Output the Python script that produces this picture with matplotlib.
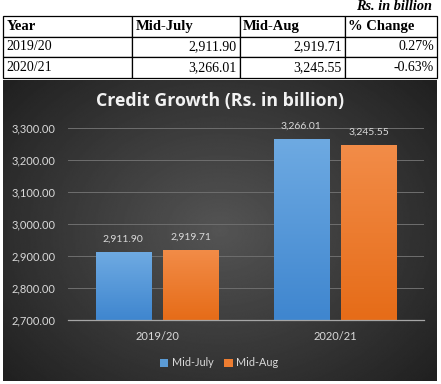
import numpy as np
import matplotlib
matplotlib.use("Agg")
import matplotlib.pyplot as plt
from matplotlib.colors import LinearSegmentedColormap

# Datos
years = ["2019/20", "2020/21"]
mid_july = [2911.90, 3266.01]
mid_aug = [2919.71, 3245.55]
pct_change = ["0.27%", "-0.63%"]
col_labels = ["Year", "Mid-July", "Mid-Aug", "% Change"]

W, H = 441, 384
fig = plt.figure(figsize=(W / 100, H / 100), dpi=100)
fig.patch.set_facecolor("white")


def fx(px):
    return px / W


def fy(px):
    return 1 - px / H


# --- tabla de arriba ---
fig.text(fx(432), fy(7), "Rs. in billion", ha="right", va="center",
         fontsize=10.3, fontweight="bold", style="italic",
         family="Liberation Serif", color="black")

tab_ax = fig.add_axes([fx(3), fy(78), fx(434), (78 - 16) / H])
tab_ax.axis("off")
cell_text = [[y, f"{a:,.2f}", f"{b:,.2f}", p]
             for y, a, b, p in zip(years, mid_july, mid_aug, pct_change)]
tabla = tab_ax.table(cellText=cell_text, colLabels=col_labels,
                     colWidths=[129, 108, 105, 92], bbox=[0, 0, 1, 1])
tabla.auto_set_font_size(False)
tabla.set_fontsize(10)
for (r, c), cell in tabla.get_celld().items():
    cell.set_linewidth(0.9)
    cell.set_edgecolor("black")
    cell.PAD = 0.03
    txt = cell.get_text()
    txt.set_family("Liberation Serif")
    if r == 0:
        txt.set_fontweight("bold")
        txt.set_fontsize(10.5)
        cell._loc = "left"
        txt.set_ha("left")
    elif c == 0:
        cell._loc = "left"
        txt.set_ha("left")
    else:
        cell._loc = "right"
        txt.set_ha("right")

# --- panel oscuro con degradado ---
bg = fig.add_axes([fx(3), 1 - 381 / H, fx(434), (381 - 80) / H])
bg.axis("off")
gx, gy = np.meshgrid(np.linspace(-1, 1, 300), np.linspace(-1, 1, 300))
dist = np.sqrt((gx * 0.9) ** 2 + (gy * 0.8) ** 2)
grad = np.clip(0.33 - 0.17 * dist, 0.11, 0.34)
bg.imshow(grad, cmap="gray", vmin=0, vmax=1, extent=[0, 1, 0, 1],
          aspect="auto", interpolation="bilinear")
bg.set_xlim(0, 1)
bg.set_ylim(0, 1)

fig.text(fx(220), fy(101), "Credit Growth (Rs. in billion)", ha="center",
         va="center", fontsize=12.8, fontweight="bold", family="Open Sans",
         color="#f2f2f2")

# --- barras ---
ax = fig.add_axes([fx(68), fy(320), fx(424 - 68), (320 - 128) / H])
ax.patch.set_alpha(0)
x = np.arange(len(years))
bw = 0.31
off = 0.19
c_blue = "#5b9bd5"
c_orange = "#ed7d31"
cm_blue = LinearSegmentedColormap.from_list("b", ["#3f86cf", "#6eaae2"])
cm_orange = LinearSegmentedColormap.from_list("o", ["#e66c18", "#f28c48"])
b1 = ax.bar(x - off, mid_july, bw, color=c_blue, label="Mid-July", zorder=3)
b2 = ax.bar(x + off, mid_aug, bw, color=c_orange, label="Mid-Aug", zorder=3)
ramp = np.linspace(0, 1, 100).reshape(-1, 1)
for bars, cm in ((b1, cm_blue), (b2, cm_orange)):
    for rect in bars:
        x0, w, v = rect.get_x(), rect.get_width(), rect.get_height()
        im = ax.imshow(ramp, cmap=cm, origin="lower", aspect="auto",
                       extent=[x0, x0 + w, 2700, v], zorder=4)
        im.set_clip_path(rect)
        ax.text(x0 + w / 2, v + 26, f"{v:,.2f}",
                ha="center", va="bottom", fontsize=7.5, color="#d9d9d9",
                family="Lato", clip_on=False)

ax.set_xlim(-0.5, 1.5)
ax.set_ylim(2700, 3300)
ax.set_yticks(np.arange(2700, 3301, 100))
ax.set_yticklabels([f"{v:,.2f}" for v in np.arange(2700, 3301, 100)])
ax.set_xticks(x)
ax.set_xticklabels(years)
ax.tick_params(length=0, colors="#d9d9d9", labelsize=8)
ax.tick_params(axis="y", pad=9)
ax.tick_params(axis="x", pad=8)
for lab in ax.get_xticklabels() + ax.get_yticklabels():
    lab.set_family("Lato")
ax.grid(axis="y", color="#6e6e6e", linewidth=0.7, zorder=0)
for s in ["top", "right", "left"]:
    ax.spines[s].set_visible(False)
ax.spines["bottom"].set_color("#a6a6a6")
ax.spines["bottom"].set_linewidth(0.9)
ax.spines["bottom"].set_zorder(5)

leg = fig.legend(handles=[b1, b2], loc="center", bbox_to_anchor=(fx(219), fy(363)),
                 ncol=2, frameon=False, fontsize=7.8, handlelength=0.8,
                 handleheight=0.8, handletextpad=0.3, columnspacing=1.0)
for t in leg.get_texts():
    t.set_color("#d9d9d9")
    t.set_family("Lato")

plt.savefig("out.png", dpi=100)
plt.close()
